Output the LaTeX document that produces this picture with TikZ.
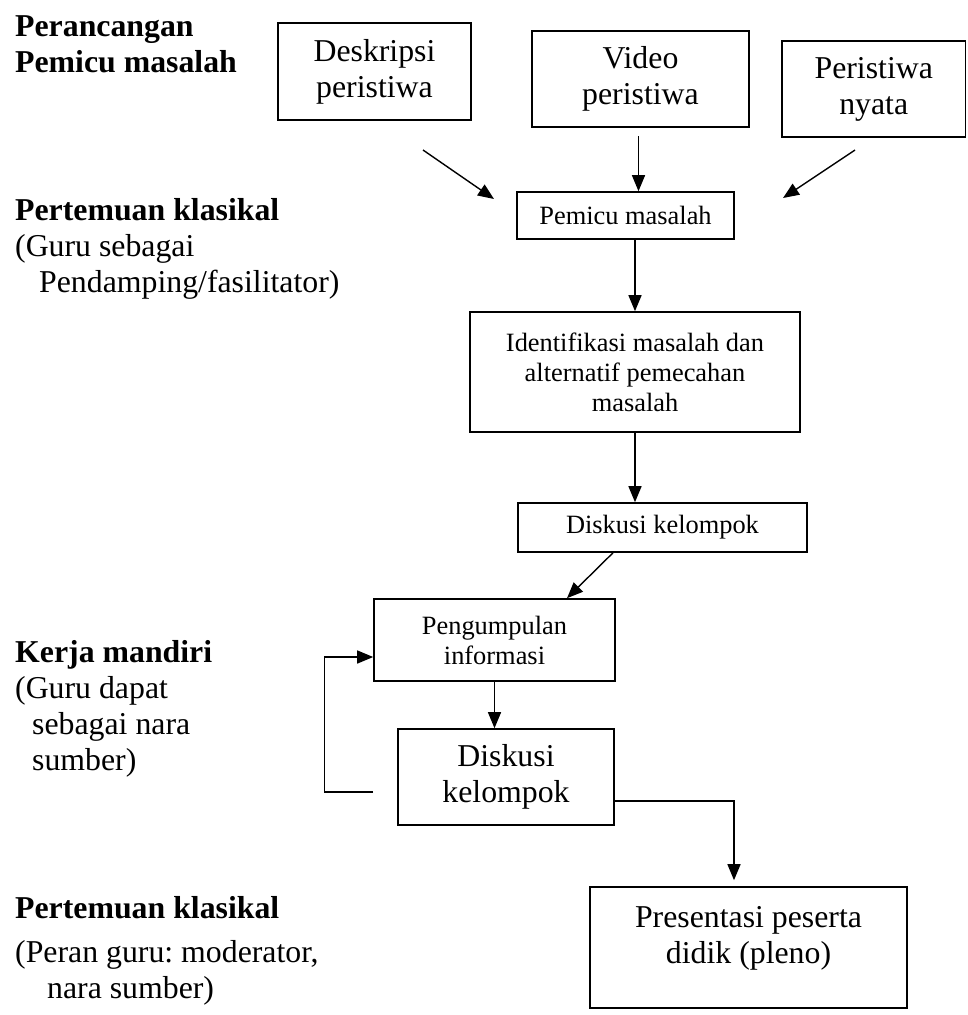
\documentclass[tikz,border=0pt]{standalone}
\usepackage{fontspec}
\setmainfont{Liberation Serif}
\usetikzlibrary{arrows.meta}
\newcommand\fbig{\fontsize{31.8}{36}\selectfont}
\newcommand\fsmall{\fontsize{26.4}{30}\selectfont}
\frenchspacing
\begin{document}
\begin{tikzpicture}[x=1pt,y=-1pt,
  box/.style={draw, line width=1.6pt, inner sep=0pt, align=center},
  arr/.style={line width=1.4pt, -{Triangle[length=16pt,width=13pt]}},
  lbl/.style={anchor=north west, inner sep=0pt, align=left, font=\fbig}]
\useasboundingbox (0,0) rectangle (967,1015);

% left labels
\node[lbl, font=\fbig\bfseries] (l1) at (15,10.8) {\strut Perancangan\\Pemicu masalah};
\node[lbl] (l2) at (15,194.8) {\strut\textbf{Pertemuan klasikal}\\(Guru sebagai\\\hspace*{24pt}Pendamping/fasilitator)};
\node[lbl] (l3) at (15,636.8) {\strut\textbf{Kerja mandiri}\\(Guru dapat\\\hspace*{17pt}sebagai nara\\\hspace*{17pt}sumber)};
\node[lbl] (l4) at (15,892.8) {\strut\textbf{Pertemuan klasikal}\\[8pt](Peran guru: moderator,\\\hspace*{32pt}nara sumber)};

% boxes
\node[box, font=\fbig, minimum width=193pt, minimum height=97pt] (desk) at (374.5,71.5) {Deskripsi\\peristiwa};
\node[box, font=\fbig, minimum width=217pt, minimum height=96pt] (video) at (640.5,79) {Video\\peristiwa};
\node[box, font=\fbig, minimum width=183.5pt, minimum height=96pt] (nyata) at (873.75,89) {Peristiwa\\nyata};
\node[box, font=\fsmall, minimum width=217pt, minimum height=47pt] (pemicu) at (625.5,215.5) {Pemicu masalah};
\node[box, font=\fsmall, minimum width=330pt, minimum height=120pt] (ident) at (635,372) {Identifikasi masalah dan\\alternatif pemecahan\\masalah};
\node[box, font=\fsmall, minimum width=289pt, minimum height=49pt] (disk1) at (662.5,527.5) {Diskusi kelompok};
\node[box, font=\fsmall, minimum width=241pt, minimum height=82pt] (peng) at (494.5,640) {Pengumpulan\\informasi};
\node[box, font=\fbig, minimum width=216pt, minimum height=96pt] (disk2) at (506,777) {Diskusi\\kelompok};
\node[box, minimum width=317pt, minimum height=121pt] (pres) at (748.5,947.5) {};
\node[font=\fbig, align=center, inner sep=0pt] (presT) at (748.5,938) {Presentasi peserta\\didik (pleno)};

% connectors
\coordinate (a1s) at (423,150);
\coordinate (a1e) at (494,199);
\draw[arr] (a1s) -- (a1e);
\coordinate (a2s) at (638.5,136);
\draw[arr] (a2s) -- (a2s |- pemicu.north);
\coordinate (a3s) at (855,150);
\coordinate (a3e) at (783,198);
\draw[arr] (a3s) -- (a3e);
\draw[arr] (pemicu.south -| ident.north) -- (ident.north);
\draw[arr] (ident.south) -- (ident.south |- disk1.north);
\draw[arr] ([xshift=-49.5pt]disk1.south) -- ([xshift=72.5pt]peng.north);
\draw[arr] (peng.south) -- (peng.south |- disk2.north);
\path (peng.west) ++(0,152) coordinate (fb);
\draw[arr] (fb) -- ++(-49,0) |- ([yshift=-17pt]peng.west);
\coordinate (pt) at ([xshift=-14.5pt,yshift=6pt]pres.north);
\draw[arr] ([yshift=-24pt]disk2.east) -| (pt);
\end{tikzpicture}
\end{document}
